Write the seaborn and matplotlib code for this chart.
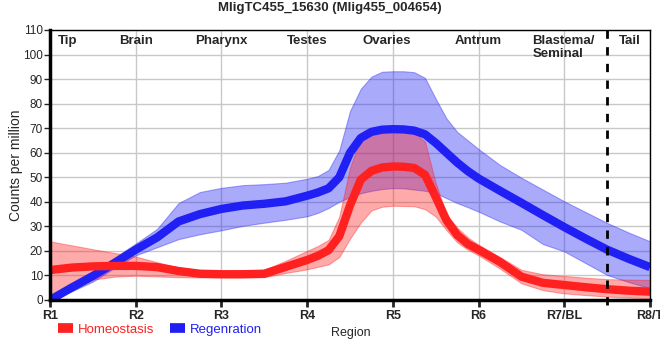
import numpy as np
import pandas as pd
import matplotlib
matplotlib.use("Agg")
import matplotlib.pyplot as plt
import seaborn as sns
from matplotlib.lines import Line2D

## Values (quarter steps, eighth steps around the peak)

pos = [1.00, 1.25, 1.50, 1.75, 2.00, 2.25, 2.50, 2.75, 3.00, 3.25, 3.50, 3.75,
       4.000, 4.125, 4.250, 4.375, 4.500, 4.625, 4.750, 4.875,
       5.000, 5.125, 5.250, 5.375, 5.500, 5.625, 5.750, 5.875,
       6.00, 6.25, 6.50, 6.75, 7.00, 7.25, 7.50, 7.75, 8.00]

reg_mean = [0, 5, 9.8, 15, 20.5, 25.5, 32, 35, 37.1, 38.5, 39.2, 40.2,
            42.5, 43.8, 45.5, 50, 60, 66, 68.5, 69.4,
            69.6, 69.5, 69, 67.5, 64, 60, 56, 52.5,
            49.5, 44.5, 39.6, 34.6, 29.7, 25, 20.5, 16.8, 13.4]
reg_upper = [0.5, 6, 11.6, 17.2, 23, 29, 39.5, 44, 45.7, 46.8, 47.2, 47.8,
             49.4, 50.5, 53, 61, 77, 86, 91, 93,
             93.2, 93.2, 92.8, 90.5, 82, 74, 68.5, 65,
             61.5, 55, 49.8, 45, 40.2, 35.8, 31.4, 27.5, 23.9]
reg_lower = [0, 3.5, 7.5, 13, 18.2, 21.5, 24.8, 26.8, 28.4, 30.2, 31.5, 32.7,
             34.1, 35.5, 37.5, 40, 42, 43.5, 44.5, 45.2,
             45.6, 45.5, 45, 44.5, 43.5, 41.5, 39.5, 37.8,
             36, 32, 28.6, 22.8, 19.8, 15, 10.2, 7.3, 4.8]

hom_mean = [12.2, 13.2, 13.7, 13.9, 13.9, 13.4, 11.8, 10.7, 10.5, 10.5, 10.7, 13.5,
            16.3, 18, 20.3, 26, 38.5, 49, 52.6, 54,
            54.4, 54.3, 53.8, 51, 42, 32.5, 26.5, 22.8,
            20.5, 15.5, 9.5, 7, 6.1, 5.2, 4.4, 3.8, 3.4]
hom_upper = [23.9, 22.3, 20.7, 19.2, 17.7, 15.4, 13.2, 12.2, 11.9, 12, 12.3, 16,
             20, 22, 24.5, 34, 54, 66, 68.5, 69.3,
             69.4, 69, 68.2, 64.5, 47.6, 35, 29.5, 25.5,
             22.5, 17.5, 12.3, 10.5, 9.8, 9.1, 8.5, 8.3, 8.2]
hom_lower = [0, 5, 8.3, 9.5, 9.9, 9.6, 9.3, 9.2, 9.2, 9.2, 9.3, 11,
             12.5, 13.5, 14.5, 17.5, 25, 31.5, 36.5, 38,
             38.4, 38.3, 38.2, 37, 34, 28.5, 23.5, 20.5,
             18.2, 12.8, 6.8, 4, 2.7, 2, 1.4, 1, 0.7]

tick_labels = ['R1', 'R2', 'R3', 'R4', 'R5', 'R6', 'R7/BL', 'R8/T']
regions = ['Tip', 'Brain', 'Pharynx', 'Testes', 'Ovaries', 'Antrum',
           'Blastema/\nSeminal', 'Tail']
region_pos = [1.2, 2.0, 3.0, 4.0, 4.93, 6.0, 6.63, 7.77]
region_ha = ['center'] * 6 + ['left', 'center']

red = '#ff2020'
blue = '#2020f5'

df = pd.DataFrame({
    'pos': pos * 2,
    'cpm': hom_mean + reg_mean,
    'cond': ['Homeostasis'] * len(pos) + ['Regenration'] * len(pos),
})

## Plot

sns.set_theme(style='whitegrid')
plt.rcParams['font.family'] = ['Liberation Sans', 'DejaVu Sans']

fig = plt.figure(figsize=(6.6, 3.6), dpi=100)
ax = fig.add_axes([50 / 660, 1 - 300 / 360, 600 / 660, 270 / 360])

ax.fill_between(pos, reg_lower, reg_upper, color=blue, alpha=0.38, lw=0.8)
sns.lineplot(data=df[df.cond == 'Regenration'], x='pos', y='cpm', color=blue,
             lw=6, ax=ax, legend=False, solid_capstyle='butt',
             solid_joinstyle='round')
ax.fill_between(pos, hom_lower, hom_upper, color=red, alpha=0.38, lw=0.8)
sns.lineplot(data=df[df.cond == 'Homeostasis'], x='pos', y='cpm', color=red,
             lw=6, ax=ax, legend=False, solid_capstyle='butt',
             solid_joinstyle='round')

ax.axvline(7.5, ymin=-0.02, ymax=1, color='black', lw=2, ls=(0, (3, 3)),
           clip_on=False, zorder=5)

ax.set_xlim(1, 8)
ax.set_ylim(0, 110)
ax.set_xticks(range(1, 9))
ax.set_xticklabels(tick_labels, fontsize=9, fontweight='bold')
ax.set_yticks(range(0, 111, 10))
ax.tick_params(axis='y', labelsize=8.5, length=4, width=1, left=True, pad=1)
ax.tick_params(axis='x', length=5, width=2, bottom=True, pad=2)
ax.grid(True, color='#c8c8c8', lw=1)
ax.set_xlabel('')
ax.set_ylabel('Counts per million', fontsize=10, labelpad=0)

for side in ['top', 'right']:
    ax.spines[side].set_color('black')
    ax.spines[side].set_linewidth(1)
for side in ['left', 'bottom']:
    ax.spines[side].set_color('black')
    ax.spines[side].set_linewidth(2.5)

for name, x, ha in zip(regions, region_pos, region_ha):
    ax.text(x, 108, name, ha=ha, va='top', fontsize=9.5, fontweight='bold',
            linespacing=1.1)

fig.suptitle('MligTC455_15630 (Mlig455_004654)', x=0.5, y=0.995,
             fontsize=9.5, fontweight='bold')

handles = [Line2D([], [], color=red, lw=7, solid_capstyle='butt'),
           Line2D([], [], color=blue, lw=7, solid_capstyle='butt')]
fig.legend(handles, ['Homeostasis', 'Regenration'], loc='center left',
           bbox_to_anchor=(0.07, 0.085), ncol=2, frameon=False, fontsize=9.5,
           handlelength=1.1, handletextpad=0.4, columnspacing=1.2,
           labelcolor=[red, blue])
fig.text(351 / 660, 0.075, 'Region', ha='center', va='center', fontsize=9)

fig.savefig('out.png', dpi=100)
